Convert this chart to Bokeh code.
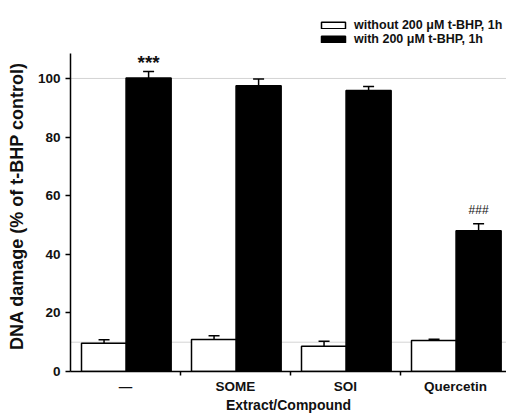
from bokeh.plotting import figure
from bokeh.models import (Range1d, FixedTicker, Span, Whisker, TeeHead,
                          ColumnDataSource, Legend, LegendItem)
from bokeh.core.properties import value
from bokeh.embed import file_html
from bokeh.resources import INLINE

# ---- data ----
categories = ["\u2014", "SOME", "SOI", "Quercetin"]
without_tbhp = [9.6, 10.9, 8.6, 10.6]
without_err = [1.2, 1.3, 1.7, 0.4]
with_tbhp = [100.2, 97.5, 95.9, 48.0]
with_err = [2.2, 2.3, 1.4, 2.4]
series_labels = ["without 200 \u03bcM t-BHP, 1h", "with 200 \u03bcM t-BHP, 1h"]
significance = ["***", "", "", "###"]
reference_lines = [100, 10]
y_ticks = [0, 20, 40, 60, 80, 100]
y_label = "DNA damage (% of t-BHP control)"
x_label = "Extract/Compound"

FONT = "Liberation Sans"
TXT = "#111111"

idx = list(range(len(categories)))
x_wo = [i + 0.305 for i in idx]
x_w = [i + 0.71 for i in idx]

p = figure(width=506, height=419, output_backend="svg", toolbar_location=None,
           x_range=Range1d(0, 436 / 110), y_range=Range1d(0, 124.9),
           min_border_left=70, min_border_right=0, min_border_top=5,
           min_border_bottom=48)
p.outline_line_color = None
p.xgrid.visible = False
p.ygrid.visible = False
p.background_fill_color = "white"
p.border_fill_color = "white"

for v in reference_lines:
    p.add_layout(Span(location=v, dimension="width", line_color="#d4d4d4",
                      line_width=1, level="underlay"))

src_wo = ColumnDataSource(dict(x=x_wo, top=without_tbhp,
                               up=[a + b for a, b in zip(without_tbhp, without_err)]))
src_w = ColumnDataSource(dict(x=x_w, top=with_tbhp,
                              up=[a + b for a, b in zip(with_tbhp, with_err)]))

for src in (src_wo, src_w):
    p.add_layout(Whisker(source=src, base="x", lower="top", upper="up",
                         dimension="height", line_width=1.5, line_color="black",
                         upper_head=TeeHead(size=11, line_width=1.5, line_color="black"),
                         lower_head=None, level="underlay"))

r_wo = p.vbar(x="x", top="top", bottom=0, width=0.41, source=src_wo,
              fill_color="white", line_color="black", line_width=1.5)
r_w = p.vbar(x="x", top="top", bottom=0, width=0.41, source=src_w,
             fill_color="black", line_color="black", line_width=1.5)

# significance marks
for i, s in enumerate(significance):
    if not s:
        continue
    star = s == "***"
    p.text(x=[x_w[i]], y=[with_tbhp[i] + with_err[i] + (3.2 if star else 4.8)],
           text=[s], text_align="center", text_baseline="middle",
           text_font=value(FONT), text_font_style="bold" if star else "normal",
           text_font_size="19px" if star else "12px", text_color=TXT)

# axes
ya = p.yaxis[0]
ya.ticker = FixedTicker(ticks=y_ticks)
ya.bounds = (0, 108.5)
# trailing no-break spaces shift the centred label toward the axis' drawn extent
ya.axis_label = y_label + "\u00a0" * 7
ya.axis_label_text_font = FONT
ya.axis_label_text_font_style = "bold"
ya.axis_label_text_font_size = "18px"
ya.axis_label_text_color = TXT
ya.axis_label_standoff = 8
ya.major_label_text_font = FONT
ya.major_label_text_font_style = "bold"
ya.major_label_text_font_size = "13.5px"
ya.major_label_text_color = TXT
ya.major_label_standoff = 5
ya.major_tick_out = 5
ya.major_tick_in = 0
ya.minor_tick_out = 0
ya.minor_tick_in = 0
ya.axis_line_width = 1.5
ya.major_tick_line_width = 1.5

xa = p.xaxis[0]
xa.ticker = FixedTicker(ticks=[i + 0.5 for i in idx], minor_ticks=[1, 2, 3])
xa.major_label_overrides = {i + 0.5: c for i, c in enumerate(categories)}
xa.axis_label = x_label
xa.axis_label_text_font = FONT
xa.axis_label_text_font_style = "bold"
xa.axis_label_text_font_size = "14px"
xa.axis_label_text_color = TXT
xa.axis_label_standoff = 0
xa.major_label_text_font = FONT
xa.major_label_text_font_style = "bold"
xa.major_label_text_font_size = "13.5px"
xa.major_label_text_color = TXT
xa.major_label_standoff = 3
xa.major_tick_out = 0
xa.major_tick_in = 0
xa.minor_tick_out = 4
xa.minor_tick_in = 0
xa.minor_tick_line_width = 1.5
xa.axis_line_width = 1.5

legend = Legend(items=[LegendItem(label=series_labels[0], renderers=[r_wo]),
                       LegendItem(label=series_labels[1], renderers=[r_w])],
                location=(248, 325), padding=0, margin=0, spacing=0,
                glyph_width=30, glyph_height=8, label_height=14,
                label_standoff=6, label_text_font=FONT,
                label_text_font_style="bold", label_text_font_size="12.5px",
                label_text_color=TXT, border_line_alpha=0,
                background_fill_alpha=0)
p.add_layout(legend)

open("out.html", "w").write(file_html(p, INLINE))
